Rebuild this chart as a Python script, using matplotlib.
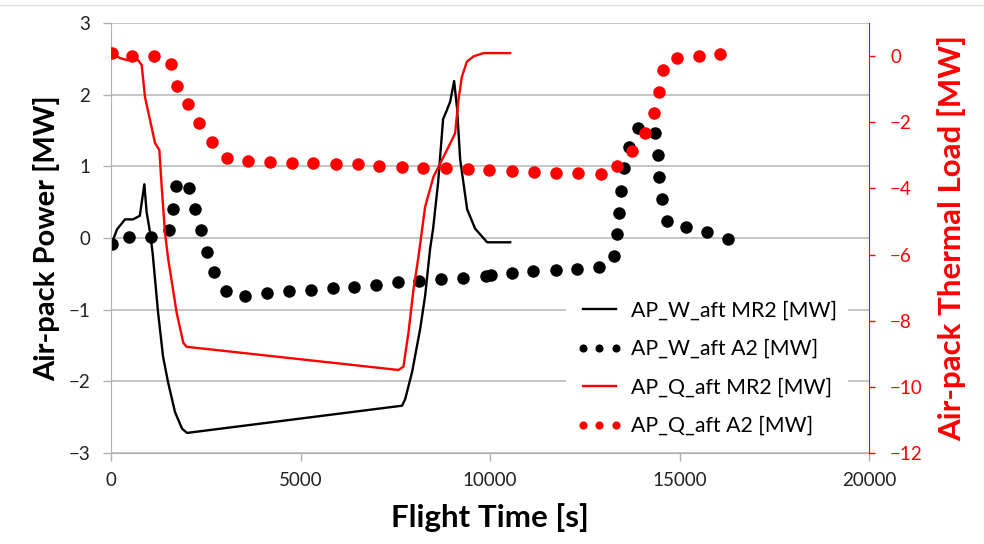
import numpy as np
import matplotlib.pyplot as plt
from matplotlib.lines import Line2D

# AP_W_aft MR2 (left axis), solid black
t_w_mr2 = [18, 158, 370, 580, 760, 880, 940, 1030, 1100, 1240, 1372, 1504, 1689, 1874, 2006,
           7679, 7759, 7943, 8155, 8286, 8418, 8497, 8630, 8761, 8841, 8946, 9052, 9131, 9210,
           9395, 9606, 9923, 10530]
w_mr2 = [-0.08, 0.12, 0.26, 0.26, 0.31, 0.75, 0.36, 0.08, -0.22, -1.03, -1.65, -2.01, -2.43, -2.66, -2.72,
         -2.34, -2.25, -1.87, -1.27, -0.81, -0.15, 0.13, 0.78, 1.66, 1.76, 1.90, 2.19, 1.80, 1.10,
         0.40, 0.13, -0.06, -0.06]

# AP_W_aft A2 (left axis), black dots
t_w_a2 = [18, 483, 1048, 1539, 1644, 1707, 2058, 2217, 2367, 2525, 2726, 3027, 3536, 4125, 4697,
          5270, 5851, 6421, 6993, 7566, 8136, 8709, 9297, 9896, 10020, 10574, 11145, 11736, 12306,
          12886, 13256, 13340, 13406, 13459, 13525, 13652, 13900, 14356, 14427, 14467, 14522,
          14654, 15174, 15728, 16269]
w_a2 = [-0.08, 0.02, 0.02, 0.11, 0.40, 0.72, 0.70, 0.40, 0.11, -0.19, -0.48, -0.74, -0.81, -0.77, -0.74,
        -0.73, -0.70, -0.68, -0.65, -0.62, -0.60, -0.57, -0.56, -0.53, -0.52, -0.49, -0.46, -0.45, -0.43,
        -0.40, -0.25, 0.05, 0.35, 0.66, 0.97, 1.27, 1.54, 1.46, 1.16, 0.85, 0.54,
        0.24, 0.16, 0.08, -0.01]

# AP_Q_aft MR2 (right axis), solid red
t_q_mr2 = [18, 238, 422, 712, 810, 897, 1029, 1161, 1275, 1338, 1425, 1512, 1734, 1908, 1998,
           7582, 7714, 7846, 7978, 8110, 8286, 8506, 8770, 8991, 9078, 9165, 9255, 9387, 9561,
           9825, 10530]
q_mr2 = [0.08, -0.06, -0.12, -0.12, -0.27, -1.24, -1.93, -2.63, -2.84, -3.96, -5.35, -6.16, -7.77, -8.67, -8.79,
         -9.49, -9.39, -8.37, -7.07, -6.07, -4.56, -3.65, -3.05, -2.54, -2.33, -1.33, -0.63, -0.17, -0.01,
         0.09, 0.09]

# AP_Q_aft A2 (right axis), red dots
t_q_a2 = [18, 546, 1143, 1583, 1734, 2024, 2322, 2673, 3053, 3607, 4196, 4769, 5339, 5930, 6510,
          7080, 7672, 8242, 8833, 9413, 9983, 10574, 11163, 11743, 12316, 12918, 13361, 13741,
          14074, 14311, 14443, 14549, 14929, 15499, 16071]
q_a2 = [0.08, 0.01, 0.01, -0.25, -0.90, -1.46, -2.03, -2.59, -3.07, -3.17, -3.21, -3.24, -3.24, -3.26, -3.27,
        -3.31, -3.34, -3.37, -3.39, -3.42, -3.44, -3.46, -3.49, -3.52, -3.52, -3.56, -3.31, -2.87,
        -2.33, -1.73, -1.08, -0.42, -0.07, 0.00, 0.06]

plt.rcParams['font.family'] = ['Lato', 'DejaVu Sans']

fig = plt.figure(figsize=(9.84, 5.44), dpi=100)
ax = fig.add_axes([0.1128, 0.1673, 0.7705, 0.7904])
ax2 = ax.twinx()

grey = '#b0b0b0'
ax.plot(t_w_mr2, w_mr2, color='black', lw=1.7, label='AP_W_aft MR2 [MW]')
ax.plot(t_w_a2, w_a2, 'o', color='black', ms=9, mec='none', label='AP_W_aft A2 [MW]')
ax2.plot(t_q_mr2, q_mr2, color='red', lw=1.7, label='AP_Q_aft MR2 [MW]')
ax2.plot(t_q_a2, q_a2, 'o', color='red', ms=9, mec='none', label='AP_Q_aft A2 [MW]')

ax.set_xlim(0, 20000)
ax.set_ylim(-3, 3)
ax2.set_ylim(-12, 1)
ax.set_xticks(range(0, 20001, 5000))
ax.set_yticks(range(-3, 4))
ax2.set_yticks(range(-12, 1, 2))

ax.yaxis.grid(True, color='#c0c0c0', lw=1.3)
ax.set_axisbelow(True)

for a in (ax, ax2):
    a.spines['top'].set_visible(False)
ax.spines['left'].set_color(grey)
ax.spines['bottom'].set_color(grey)
ax.spines['right'].set_visible(False)
ax2.spines['left'].set_visible(False)
ax2.spines['bottom'].set_visible(False)
ax2.spines['right'].set_color('red')

ax.tick_params(axis='y', colors=grey, labelcolor='#222222', labelsize=13.5, length=6, width=1, pad=9)
ax.tick_params(axis='x', colors=grey, labelcolor='#222222', labelsize=13.5, length=6, width=1, pad=8)
ax2.tick_params(axis='y', colors='red', labelcolor='red', labelsize=13.5, length=4, width=1, pad=11)

ax.set_xlabel('Flight Time [s]', fontsize=22.5, fontweight='bold', va='center')
ax.xaxis.set_label_coords(0.5, -0.151)
ax.set_ylabel('Air-pack Power [MW]', fontsize=21, fontweight='bold', va='center')
ax.yaxis.set_label_coords(-0.0844, 0.5)
ax2.set_ylabel('Air-pack Thermal Load [MW]', fontsize=22.5, fontweight='bold', color='red', va='center')
ax2.yaxis.set_label_coords(1.1095, 0.5)

h1, l1 = ax.get_legend_handles_labels()
h2, l2 = ax2.get_legend_handles_labels()
leg = ax2.legend(h1 + h2, l1 + l2, loc='upper left', bbox_to_anchor=(566 / 984, 1 - 290 / 544),
                 bbox_transform=fig.transFigure, borderaxespad=0,
                 frameon=True, facecolor='white', edgecolor='none', framealpha=1,
                 fontsize=15.3, handlelength=2.15, handletextpad=0.42, labelspacing=0.87,
                 borderpad=0.5, numpoints=3, markerscale=0.65)
leg.get_frame().set_linewidth(0)

fig.add_artist(Line2D([0, 1], [1 - 5 / 544, 1 - 5 / 544], color='#e4e4e4', lw=1))

plt.savefig('out.png', dpi=100)
